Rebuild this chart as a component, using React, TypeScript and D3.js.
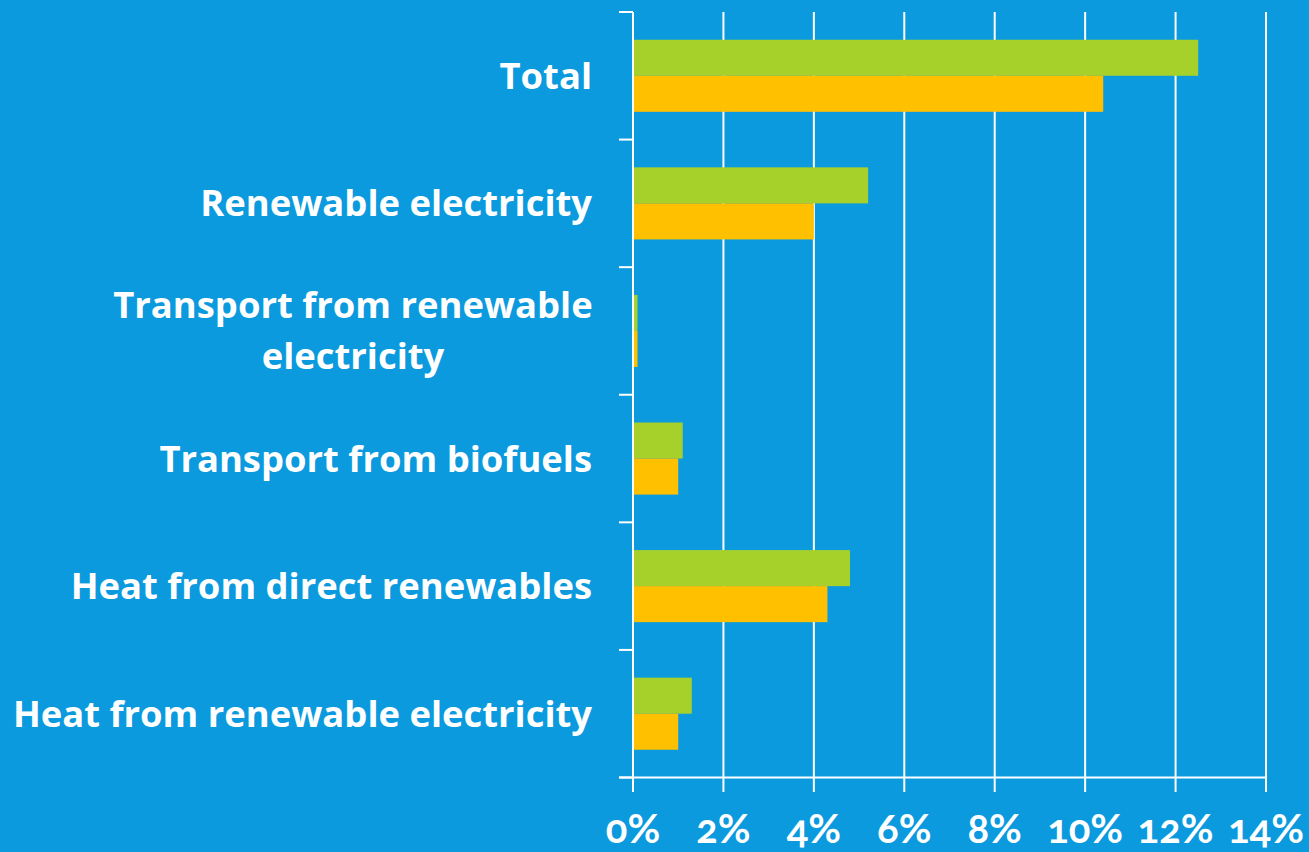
import React from "react";
import * as d3 from "d3";

const categories: string[][] = [
  ["Total"],
  ["Renewable electricity"],
  ["Transport from renewable", "electricity"],
  ["Transport from biofuels"],
  ["Heat from direct renewables"],
  ["Heat from renewable electricity"],
];
const seriesNames = ["green", "orange"];
const greenValues = [12.5, 5.2, 0.1, 1.1, 4.8, 1.3];
const orangeValues = [10.4, 4.0, 0.1, 1.0, 4.3, 1.0];
const xTicks = [0, 2, 4, 6, 8, 10, 12, 14];

const W = 1309;
const H = 852;
const BG = "#0b9ade";
const COLORS = ["#a6d12a", "#ffc000"];
const FONT = "'Open Sans', Lato, sans-serif";
const TICK_FONT = "Lato, 'Open Sans', sans-serif";

export default function App() {
  const x = d3.scaleLinear().domain([0, 14]).range([633, 1266]);
  const keys = categories.map((c) => c.join(" "));
  const y = d3.scaleBand<string>().domain(keys).range([12, 777.5]).padding(0);
  const inner = d3
    .scaleBand<string>()
    .domain(seriesNames)
    .range([0, y.bandwidth()])
    .paddingInner(0)
    .paddingOuter(0.77);
  const values = [greenValues, orangeValues];
  const boundaries = keys.map((k) => y(k)!).concat([y.range()[1]]);

  return (
    <svg
      width={W}
      height={H}
      style={{ position: "absolute", left: 0, top: 0, background: BG }}
    >
      <rect x={0} y={0} width={W} height={H} fill={BG} />
      {xTicks.map((t) => (
        <line
          key={"g" + t}
          x1={x(t)}
          x2={x(t)}
          y1={12}
          y2={t === 0 ? 777.5 : 792}
          stroke="#fff"
          strokeWidth={2}
        />
      ))}
      {keys.map((k, i) =>
        seriesNames.map((s, j) => (
          <rect
            key={k + s}
            x={x(0)}
            y={y(k)! + inner(s)!}
            width={x(values[j][i]) - x(0)}
            height={inner.bandwidth()}
            fill={COLORS[j]}
          />
        ))
      )}
      <line x1={x(0)} x2={x(0)} y1={12} y2={792} stroke="#fff" strokeWidth={2} />
      {boundaries.map((b, i) => (
        <line
          key={"yt" + i}
          x1={619}
          x2={x(0)}
          y1={b}
          y2={b}
          stroke="#fff"
          strokeWidth={2}
        />
      ))}
      <line x1={619} x2={x(14)} y1={777.5} y2={777.5} stroke="#fff" strokeWidth={2} />
      {xTicks.map((t) => (
        <text
          key={"xl" + t}
          x={x(t)}
          y={843}
          textAnchor="middle"
          fill="#fff"
          fontFamily={TICK_FONT}
          fontWeight="bold"
          fontSize={40}
          style={{ fontVariantNumeric: "oldstyle-nums" }}
        >
          {t + "%"}
        </text>
      ))}
      {categories.map((lines, i) => {
        const cy = y(keys[i])! + y.bandwidth() / 2;
        const lh = 51;
        const n = lines.length;
        if (n === 1) {
          return (
            <text
              key={"cl" + i}
              x={592}
              y={cy + 13}
              textAnchor="end"
              fill="#fff"
              fontFamily={FONT}
              fontWeight="bold"
              fontSize={36.4}
            >
              {lines[0]}
            </text>
          );
        }
        return (
          <text
            key={"cl" + i}
            x={353}
            textAnchor="middle"
            fill="#fff"
            fontFamily={FONT}
            fontWeight="bold"
            fontSize={36.4}
          >
            {lines.map((l, li) => (
              <tspan key={li} x={353} y={cy + 13 + (li - (n - 1) / 2) * lh}>
                {l}
              </tspan>
            ))}
          </text>
        );
      })}
    </svg>
  );
}
